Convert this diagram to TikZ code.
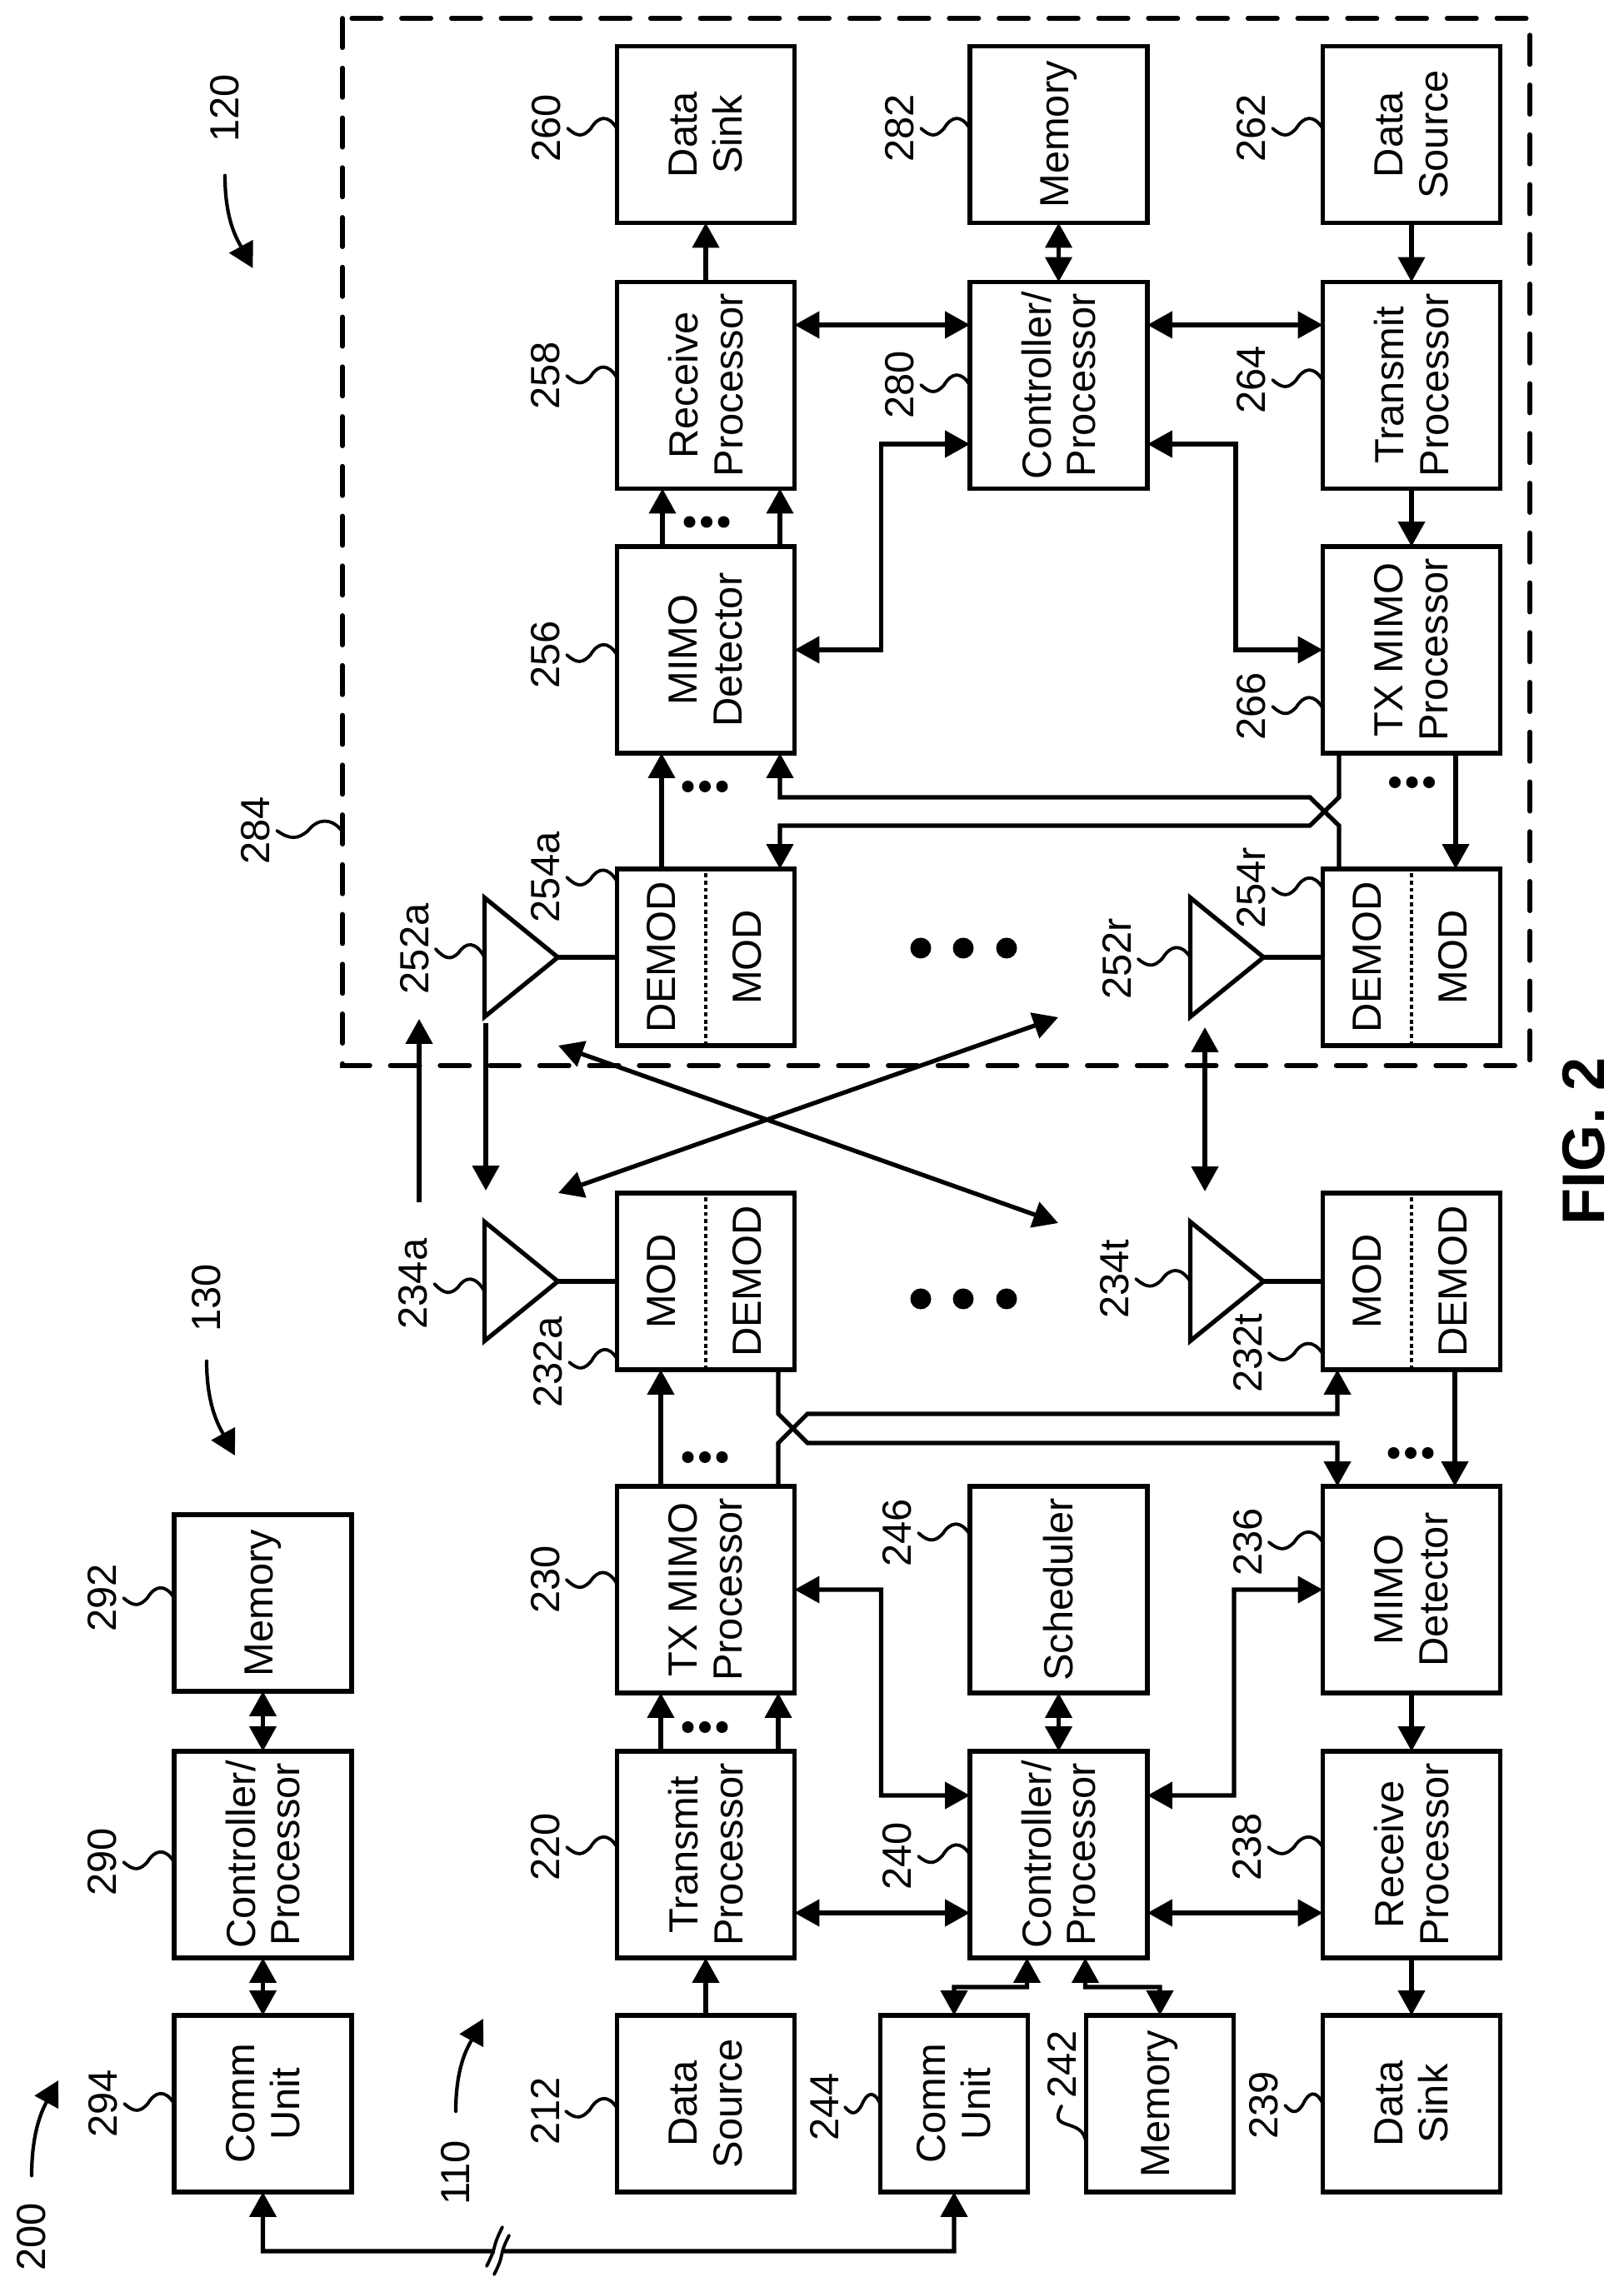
\documentclass[tikz,border=0pt]{standalone}
\usepackage{fontspec}
\setmainfont{Liberation Sans}
\usetikzlibrary{shapes.geometric, arrows.meta, positioning, calc}

\begin{document}
\begin{tikzpicture}[
    rotate=90, transform shape,
    font=\fontsize{27.8}{30.6}\selectfont,
    >={Triangle[length=17pt, width=18pt]},
    box/.style={draw, line width=3pt, align=center, inner sep=0pt, outer sep=0pt, minimum width=#1, minimum height=4.26cm},
    box/.default=4.96cm,
    amp/.style={draw, line width=3pt, isosceles triangle, isosceles triangle stretches, shape border rotate=-90, minimum width=2.86cm, minimum height=1.76cm, inner sep=0pt, outer sep=0pt},
    wire/.style={line width=3pt},
    divider/.style={line width=2.2pt, dash pattern=on 2.8pt off 2.2pt},
    tag/.style={inner sep=0pt, outer sep=0pt},
    leader/.style={line width=2.2pt, line cap=round},
    refarrow/.style={->, line width=2.4pt, line cap=round},
    dashbox/.style={draw, line width=3.3pt, line cap=round, dash pattern=on 20pt off 14pt, minimum width=25.14cm, minimum height=28.5cm, inner sep=0pt, outer sep=0pt}
]
\useasboundingbox (0,0) rectangle (55.02,-38.98);

% === BACKHAUL COLUMN ===
\node[box=4.24cm] (bhcomm) at (4.52,-6.31) {Comm\\Unit};
\node[box] (bhctrl) at (10.50,-6.31) {Controller/\\Processor};
\node[box=4.24cm] (bhmem) at (16.54,-6.31) {Memory};

% === BASE STATION ===
\node[box=4.24cm] (datasrc) at (4.52,-16.94) {Data\\Source};
\node[box] (txproc) at (10.50,-16.94) {Transmit\\Processor};
\node[box] (txmimo) at (16.86,-16.94) {TX MIMO\\Processor};
\node[box=4.24cm, minimum height=3.55cm] (comm) at (4.52,-22.90) {Comm\\Unit};
\node[box=4.24cm, minimum height=3.55cm] (mem) at (4.52,-27.84) {Memory};
\node[box] (ctrl) at (10.50,-25.41) {Controller/\\Processor};
\node[box] (sched) at (16.86,-25.41) {Scheduler};
\node[box=4.24cm] (datasink) at (4.52,-33.88) {Data\\Sink};
\node[box] (rxproc) at (10.50,-33.88) {Receive\\Processor};
\node[box] (mimodet) at (16.86,-33.88) {MIMO\\Detector};

% === UE ===
\node[dashbox] (uegroup) at (42.01,-22.47) {};
\node[box] (uemimo) at (39.42,-16.94) {MIMO\\Detector};
\node[box] (uerx) at (45.77,-16.94) {Receive\\Processor};
\node[box=4.24cm] (uesink) at (51.79,-16.94) {Data\\Sink};
\node[box] (uectrl) at (45.77,-25.41) {Controller/\\Processor};
\node[box=4.24cm] (uemem) at (51.79,-25.41) {Memory};
\node[box] (uetxmimo) at (39.42,-33.88) {TX MIMO\\Processor};
\node[box] (uetx) at (45.77,-33.88) {Transmit\\Processor};
\node[box=4.24cm] (uesrc) at (51.79,-33.88) {Data\\Source};

% === MOD / DEMOD PAIRS AND AMPLIFIERS ===
\foreach \bname/\mx/\my/\mone/\mtwo/\aname in {moda/24.26/-16.94/MOD/DEMOD/ampda, modt/24.26/-33.88/MOD/DEMOD/ampdt, demoda/32.04/-16.94/DEMOD/MOD/ampua, demodr/32.04/-33.88/DEMOD/MOD/ampur} {
    \node[box=4.24cm] (\bname) at (\mx,\my) {};
    \node (\bname one) at ($(\bname)+(0,1.06)$) {\mone};
    \node (\bname two) at ($(\bname)+(0,-1.00)$) {\mtwo};
    \draw[divider] (\bname.west) -- (\bname.east);
    \node[amp, anchor=apex] (\aname) at ($(\bname.north)+(0,1.42)$) {};
    \draw[wire] (\aname.apex) -- (\bname.north);
}

% === REFERENCE LABELS ===
\node[tag] (t200) at (1.32,-.76) {200};
\node[tag] (t110) at (2.86,-10.94) {110};
\node[tag] (t130) at (23.86,-4.96) {130};
\node[tag] (t120) at (52.42,-5.40) {120};
\node[tag, font=\fontsize{41}{41}\selectfont\bfseries] (figlabel) at (27.62,-38.02) {FIG. 2};

\foreach \tname/\tx/\ty/\tbox/\tshift in {
    294/4.52/-2.48/bhcomm/0, 292/16.66/-2.46/bhmem/.12, 290/10.32/-2.46/bhctrl/-.18,
    212/4.34/-13.08/datasrc/-.10, 220/10.68/-13.10/txproc/.18, 230/17.10/-13.09/txmimo/.14,
    232a/22.32/-13.16/moda/-1.86, 234a/24.20/-9.92/ampda/-.24,
    236/18.00/-29.95/mimodet/1.14, 238/10.68/-29.94/rxproc/.18, 239/4.48/-30.34/datasink/0,
    240/10.46/-21.54/ctrl/0, 244/4.44/-19.78/comm/0, 246/18.22/-21.54/sched/1.32,
    252a/32.24/-9.95/ampua/0, 252r/32.00/-26.81/ampur/0,
    254a/33.96/-13.10/demoda/1.82, 254r/33.70/-30.04/demodr/1.66,
    234t/24.32/-26.76/ampdt/0, 232t/22.54/-29.95/modt/-1.74,
    256/39.30/-13.10/uemimo/-.12, 258/46.00/-13.10/uerx/.18, 260/51.94/-13.12/uesink/.14,
    266/38.06/-30.04/uetxmimo/-1.40, 264/45.90/-30.04/uetx/.12, 262/51.94/-30.04/uesrc/.14,
    280/45.78/-21.60/uectrl/0, 282/51.94/-21.60/uemem/.14, 284/35.08/-6.14/uegroup/-6.95} {
    \node[tag] (t\tname) at (\tx,\ty) {\tname};
    \coordinate (la) at ([yshift=-.16cm]t\tname.south);
    \coordinate (lb) at ([xshift=\tshift cm]\tbox.north);
    \draw[leader] (la) .. controls ($(la)!.2!(lb)+(-.22,0)$) and ($(la)!.32!(lb)+(-.2,0)$) .. ($(la)!.47!(lb)$)
        .. controls ($(la)!.62!(lb)+(.3,0)$) and ($(la)!.82!(lb)+(.35,0)$) .. (lb);
}
\node[tag] (t242) at (5.46,-25.48) {242};
\draw[leader] ([xshift=-.18cm]t242.west) .. controls +(-.64,.36) and +(.64,.06) .. ([xshift=-.94cm]mem.north);

% === CURVED REFERENCE ARROWS ===
\draw[refarrow] ([xshift=.66cm]t200.east) .. controls +(1.1,0) and +(-.66,.36) .. (5.08,-1.40);
\draw[refarrow] ([xshift=.70cm]t110.east) .. controls +(1.1,0) and +(-.66,.36) .. (6.56,-11.60);
\draw[refarrow] ([xshift=-.70cm]t130.west) .. controls +(-1.1,0) and +(.66,.36) .. (20.08,-5.64);
\draw[refarrow] ([xshift=-.80cm]t120.west) .. controls +(-1.1,0) and +(.66,.36) .. (48.58,-6.07);

% === LOWER WIRES ===
\draw[wire, ->] (datasrc) -- (txproc);
\draw[wire, ->] ([yshift=1.08cm]txproc.east) -- ([yshift=1.08cm]txmimo.west);
\draw[wire, ->] ([yshift=-1.74cm]txproc.east) -- ([yshift=-1.74cm]txmimo.west);
\draw[wire, ->] ([yshift=1.08cm]txmimo.east) -- ([yshift=1.08cm]moda.west);
\draw[wire, ->] ([yshift=-1.04cm]modt.west) -- ([yshift=-1.04cm]mimodet.east);
\draw[wire, ->] (mimodet) -- (rxproc);
\draw[wire, ->] (rxproc) -- (datasink);
\draw[wire, <->] (bhcomm) -- (bhctrl);
\draw[wire, <->] (bhctrl) -- (bhmem);
\draw[wire, <->] (ctrl) -- (sched);
\draw[wire, <->] ([xshift=-1.40cm]txproc.south) -- ([xshift=-1.40cm]ctrl.north);
\draw[wire, <->] ([xshift=-1.40cm]ctrl.south) -- ([xshift=-1.40cm]rxproc.north);
\draw[wire, <->] (txmimo.south) -- ++(0,-2.08) -- ++(-4.94,0) -- ([xshift=1.42cm]ctrl.north);
\draw[wire, <->] ([xshift=1.42cm]ctrl.south) -- ++(0,-2.08) -- ++(4.94,0) -- (mimodet.north);
\draw[wire, <->] ([yshift=.76cm]ctrl.west) -- ++(-.70,0) -- ++(0,1.75) -- (comm.east);
\draw[wire, <->] ([yshift=-.64cm]ctrl.west) -- ++(-.70,0) -- ++(0,-1.79) -- (mem.east);

% crossing pair
\draw[wire, ->] ([yshift=-1.74cm]moda.west) -- ++(-1.06,0) -- ++(-.70,-.70) -- ++(0,-12.72) -- ([yshift=1.78cm]mimodet.east);
\draw[wire, ->] ([yshift=-1.74cm]txmimo.east) -- ++(1.04,0) -- ++(.70,-.70) -- ++(0,-12.72) -- ([yshift=1.78cm]modt.west);

% backhaul with break mark
\draw[wire, <->] (bhcomm.west) -- ++(-1.42,0) -- ++(0,-16.59) -- (comm.west);
\coordinate (busbreak) at (.98,-11.92);
\draw[line width=5pt, white] ($(busbreak)+(0,.04)$) -- ($(busbreak)+(0,-.16)$);
\draw[leader] ($(busbreak)+(.58,-.14)$) .. controls +(-.55,.28) and +(.55,-.28) .. ($(busbreak)+(-.36,.24)$);
\draw[leader] ($(busbreak)+(.38,-.30)$) .. controls +(-.55,.28) and +(.55,-.28) .. ($(busbreak)+(-.56,.06)$);

% === UPPER WIRES ===
\draw[wire, ->] ([yshift=1.06cm]demoda.east) -- ([yshift=1.06cm]uemimo.west);
\draw[wire, ->] ([yshift=1.04cm]uemimo.east) -- ([yshift=1.04cm]uerx.west);
\draw[wire, ->] ([yshift=-1.78cm]uemimo.east) -- ([yshift=-1.78cm]uerx.west);
\draw[wire, ->] (uerx) -- (uesink);
\draw[wire, ->] (uesrc) -- (uetx);
\draw[wire, ->] (uetx) -- (uetxmimo);
\draw[wire, ->] ([yshift=-1.06cm]uetxmimo.west) -- ([yshift=-1.06cm]demodr.east);
\draw[wire, <->] (uectrl) -- (uemem);
\draw[wire, <->] ([xshift=1.45cm]uerx.south) -- ([xshift=1.45cm]uectrl.north);
\draw[wire, <->] ([xshift=1.45cm]uectrl.south) -- ([xshift=1.45cm]uetx.north);
\draw[wire, <->] (uemimo.south) -- ++(0,-2.08) -- ++(4.94,0) -- ([xshift=-1.41cm]uectrl.north);
\draw[wire, <->] ([xshift=-1.41cm]uectrl.south) -- ++(0,-2.12) -- ++(-4.94,0) -- (uetxmimo.north);

% crossing pair
\draw[wire, ->] ([yshift=1.74cm]demodr.east) -- ++(1.04,0) -- ++(.68,.70) -- ++(0,12.72) -- ([yshift=-1.78cm]uemimo.west);
\draw[wire, ->] ([yshift=1.74cm]uetxmimo.west) -- ++(-1.06,0) -- ++(-.68,.70) -- ++(0,12.72) -- ([yshift=-1.78cm]demoda.east);

% === OVER THE AIR ===
\coordinate (airup) at (26.16,-10.06);
\coordinate (airupend) at (30.56,-10.06);
\coordinate (airdn) at (30.46,-11.66);
\coordinate (airdnend) at (26.44,-11.66);
\coordinate (airr) at (30.36,-28.92);
\coordinate (airrend) at (26.42,-28.92);
\coordinate (crossa) at (29.92,-13.40);
\coordinate (crossaend) at (25.66,-25.40);
\coordinate (crossb) at (26.38,-13.40);
\coordinate (crossbend) at (30.60,-25.40);
\draw[wire, ->] (airup) -- (airupend);
\draw[wire, ->] (airdn) -- (airdnend);
\draw[wire, <->] (airr) -- (airrend);
\draw[wire, <->] (crossa) -- (crossaend);
\draw[wire, <->] (crossb) -- (crossbend);

% === ELLIPSES ===
\foreach \dy in {-22.10,-23.12,-24.16} {
    \fill (32.26,\dy) circle (.25);
    \fill (23.84,\dy) circle (.25);
}
\foreach \dx/\dy in {42.49/-16.96, 36.14/-16.92, 36.24/-33.89, 20.04/-16.92, 20.14/-33.86, 13.56/-16.92} {
    \foreach \ds in {-.41,0,.41} {
        \fill (\dx,\dy+\ds) circle (.14);
    }
}

\end{tikzpicture}
\end{document}
